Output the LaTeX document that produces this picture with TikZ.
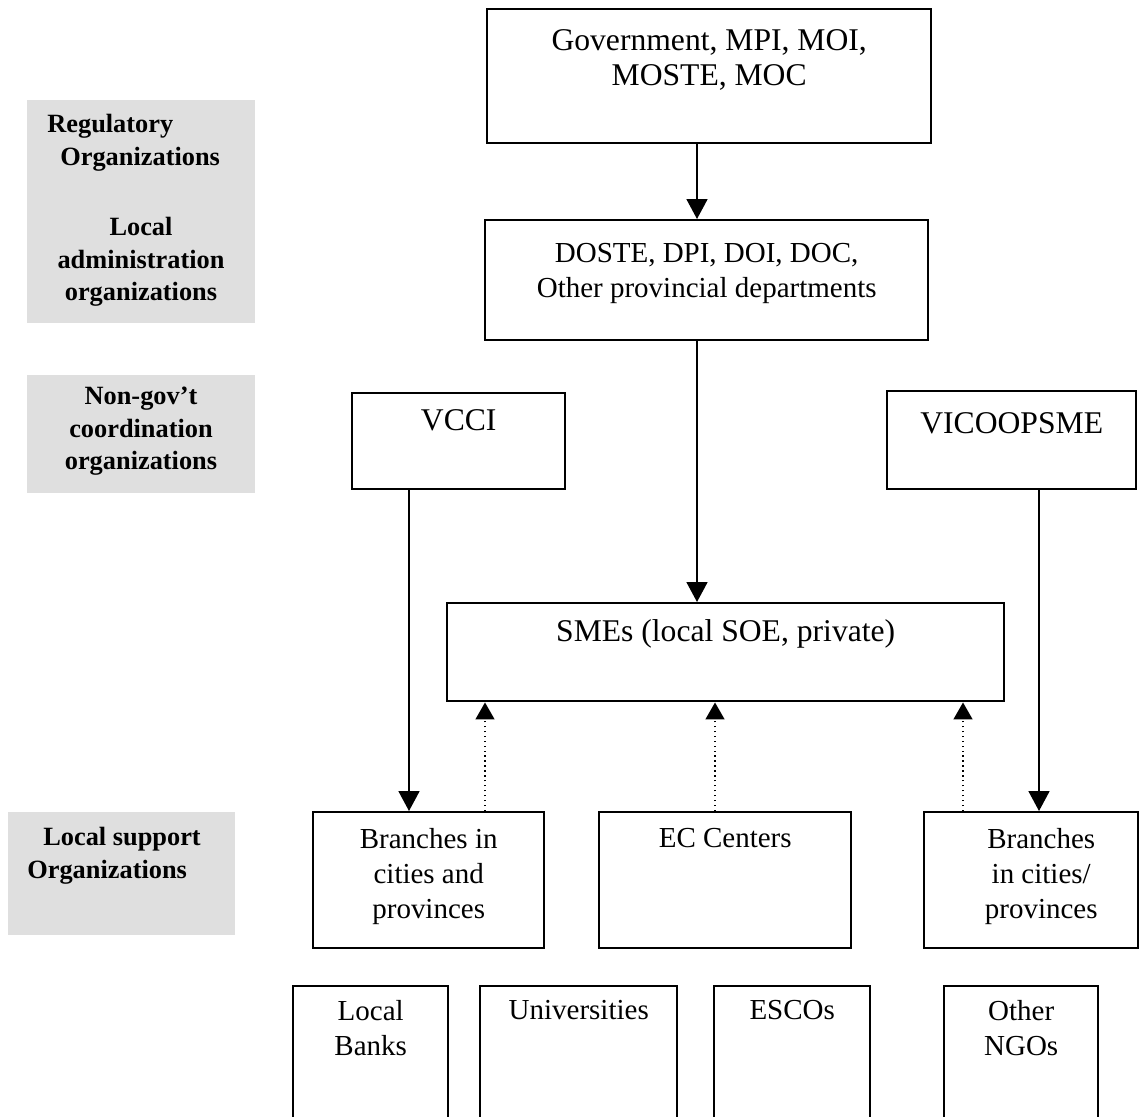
\documentclass[tikz,border=0pt]{standalone}
\usepackage{fontspec}
\setmainfont{Liberation Serif}
\usetikzlibrary{positioning,arrows.meta}

\tikzset{
  orgbox/.style={draw, line width=1.4pt, anchor=north west, inner sep=0pt},
  orgtext/.style={align=center, inner sep=0pt, font=\fontsize{16.5}{19.9}\selectfont},
  bigtext/.style={orgtext, font=\fontsize{18}{19.9}\selectfont},
  sidetext/.style={inner sep=0pt, font=\fontsize{15}{18.5}\selectfont\bfseries},
  sideband/.style={fill=gray!25, draw=none},
  link/.style={line width=1pt, -{Triangle[length=0.4cm, width=0.42cm]}},
  support/.style={line width=0.8pt, dotted, -{Triangle[length=0.34cm, width=0.38cm]}},
}

\begin{document}
\begin{tikzpicture}[x=0.02cm, y=-0.02cm]
        \useasboundingbox (0,0) rectangle (1148,1116);
        \clip (0,0) rectangle (1148,1116);

        % Shaded level labels
        \fill[sideband] (27,100) rectangle (255,323);
        \fill[sideband] (27,375) rectangle (255,493);
        \fill[sideband] (8,812) rectangle (235,935);
        \node[sidetext, anchor=north west, align=left] (reg) at (47,114) {Regulatory\\\hspace*{0.26cm}Organizations};
        \node[sidetext, anchor=north, align=center] (locadm) at (141,217) {Local\\administration\\organizations};
        \node[sidetext, anchor=north, align=center] (nongov) at (141,387) {Non-gov't\\coordination\\organizations};
        \node[sidetext, anchor=north west, align=left] (locsup) at (27,827) {\hspace*{0.32cm}Local support\\Organizations};

        % Boxes
        \node[orgbox, minimum width=8.88cm, minimum height=2.68cm] (gov) at (486,8) {};
        \node[orgbox, minimum width=8.86cm, minimum height=2.40cm] (doste) at (484,219) {};
        \node[orgbox, minimum width=4.26cm, minimum height=1.92cm] (vcci) at (351,392) {};
        \node[orgbox, minimum width=4.98cm, minimum height=1.96cm] (vicoop) at (886,390) {};
        \node[orgbox, minimum width=11.14cm, minimum height=1.96cm] (smes) at (446,602) {};
        \node[orgbox, minimum width=4.62cm, minimum height=2.72cm] (br1) at (312,811) {};
        \node[orgbox, minimum width=5.04cm, minimum height=2.72cm] (ec) at (598,811) {};
        \node[orgbox, minimum width=4.28cm, minimum height=2.72cm] (br2) at (923,811) {};
        \node[orgbox, minimum width=3.10cm, minimum height=3.2cm] (banks) at (292,985) {};
        \node[orgbox, minimum width=3.94cm, minimum height=3.2cm] (univ) at (479,985) {};
        \node[orgbox, minimum width=3.12cm, minimum height=3.2cm] (escos) at (713,985) {};
        \node[orgbox, minimum width=3.08cm, minimum height=3.2cm] (ngos) at (943,985) {};

        % Box texts
        \node[bigtext, anchor=north, below=0.42cm of gov.north] (gov-t) {Government, MPI, MOI,\\MOSTE, MOC};
        \node[orgtext, anchor=north, below=0.48cm of doste.north] (doste-t) {DOSTE, DPI, DOI, DOC,\\Other provincial departments};
        \node[bigtext, anchor=north, below=0.34cm of vcci.north] (vcci-t) {VCCI};
        \node[bigtext, anchor=north, below=0.44cm of vicoop.north] (vicoop-t) {VICOOPSME};
        \node[bigtext, anchor=north, below=0.34cm of smes.north] (smes-t) {SMEs (local SOE, private)};
        \node[orgtext, anchor=north, below=0.34cm of br1.north] (br1-t) {Branches in\\cities and\\provinces};
        \node[orgtext, anchor=north, below=0.34cm of ec.north] (ec-t) {EC Centers};
        \node[orgtext, anchor=north, below=0.34cm of br2.north, xshift=0.2cm] (br2-t) {Branches\\in cities/\\provinces};
        \node[orgtext, anchor=north, below=0.3cm of banks.north] (banks-t) {Local\\Banks};
        \node[orgtext, anchor=north, below=0.3cm of univ.north] (univ-t) {Universities};
        \node[orgtext, anchor=north, below=0.3cm of escos.north] (escos-t) {ESCOs};
        \node[orgtext, anchor=north, below=0.3cm of ngos.north] (ngos-t) {Other\\NGOs};

        % Arrow columns
        \coordinate (axis) at (697,0);
        \coordinate (vcol) at (409,0);
        \coordinate (pcol) at (1039,0);
        \coordinate (d1) at (485,0);
        \coordinate (d2) at (715,0);
        \coordinate (d3) at (963,0);

        % Solid arrows
        \draw[link] (gov.south -| axis) -- (doste.north -| axis);
        \draw[link] (doste.south -| axis) -- (smes.north -| axis);
        \draw[link] (vcci.south -| vcol) -- (br1.north -| vcol);
        \draw[link] (vicoop.south -| pcol) -- (br2.north -| pcol);

        % Dotted support arrows
        \draw[support] (br1.north -| d1) -- (smes.south -| d1);
        \draw[support] (ec.north -| d2) -- (smes.south -| d2);
        \draw[support] (br2.north -| d3) -- (smes.south -| d3);

    \end{tikzpicture}
\end{document}
